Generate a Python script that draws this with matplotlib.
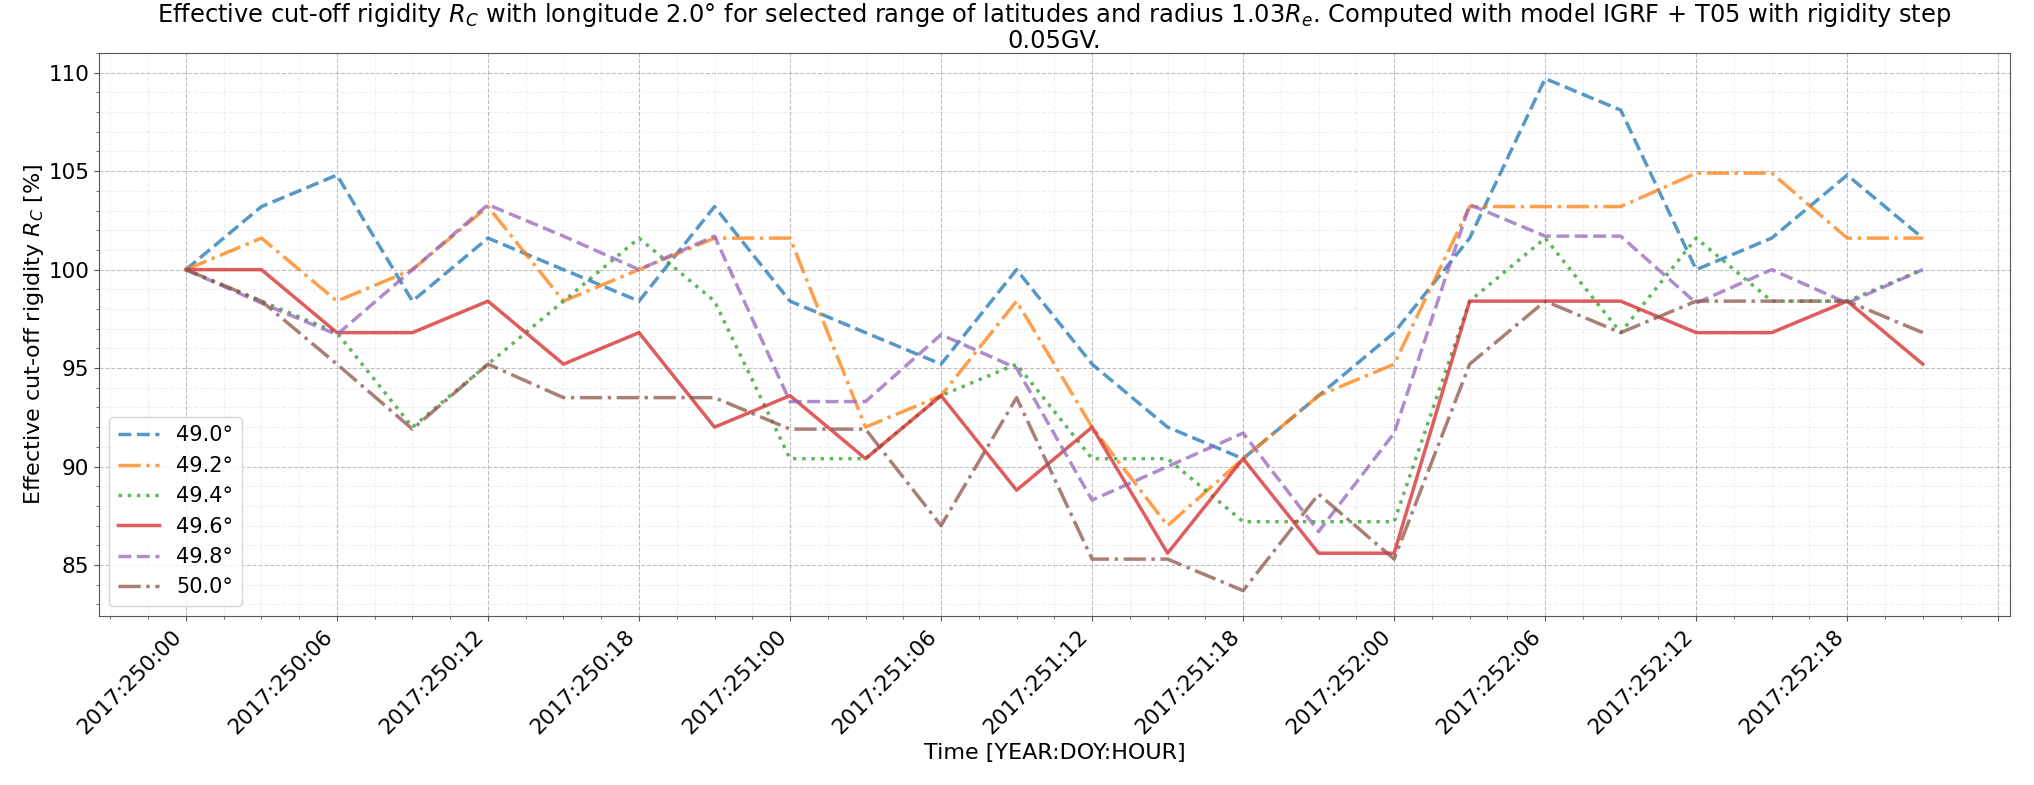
import numpy as np
import matplotlib
matplotlib.use('Agg')
import matplotlib.pyplot as plt
from matplotlib.ticker import MultipleLocator, FuncFormatter

# hours since 2017:250:00, 3 hour step
hours = np.arange(0, 70, 3)

lat_labels = ['49.0°', '49.2°', '49.4°', '49.6°', '49.8°', '50.0°']

rc_490 = [100, 103.2, 104.8, 98.4, 101.6, 100, 98.4, 103.2, 98.4, 96.8, 95.2, 100,
          95.2, 92.0, 90.4, 93.6, 96.8, 101.6, 109.7, 108.1, 100, 101.6, 104.8, 101.6]
rc_492 = [100, 101.6, 98.4, 100, 103.2, 98.4, 100, 101.6, 101.6, 92.0, 93.6, 98.4,
          92.0, 87.0, 90.4, 93.6, 95.2, 103.2, 103.2, 103.2, 104.9, 104.9, 101.6, 101.6]
rc_494 = [100, 98.4, 96.8, 92.0, 95.2, 98.4, 101.6, 98.4, 90.4, 90.4, 93.6, 95.2,
          90.4, 90.4, 87.2, 87.2, 87.2, 98.4, 101.6, 96.8, 101.6, 98.4, 98.4, 100]
rc_496 = [100, 100, 96.8, 96.8, 98.4, 95.2, 96.8, 92.0, 93.6, 90.4, 93.6, 88.8,
          92.0, 85.6, 90.4, 85.6, 85.6, 98.4, 98.4, 98.4, 96.8, 96.8, 98.4, 95.2]
rc_498 = [100, 98.3, 96.7, 100, 103.3, 101.7, 100, 101.7, 93.3, 93.3, 96.7, 95.0,
          88.3, 90.0, 91.7, 86.7, 91.7, 103.3, 101.7, 101.7, 98.3, 100, 98.3, 100]
rc_500 = [100, 98.4, 95.2, 91.9, 95.2, 93.5, 93.5, 93.5, 91.9, 91.9, 87.0, 93.5,
          85.3, 85.3, 83.7, 88.6, 85.3, 95.2, 98.4, 96.8, 98.4, 98.4, 98.4, 96.8]

tick_labels = ['2017:250:00', '2017:250:06', '2017:250:12', '2017:250:18',
               '2017:251:00', '2017:251:06', '2017:251:12', '2017:251:18',
               '2017:252:00', '2017:252:06', '2017:252:12', '2017:252:18']

series = [rc_490, rc_492, rc_494, rc_496, rc_498, rc_500]
styles = ['--', '-.', ':', '-', '--', '-.']

fig, ax = plt.subplots(figsize=(20.34, 7.85), dpi=100)
fig.subplots_adjust(left=0.0487, right=0.988, top=0.9325, bottom=0.215)

for i in range(len(series)):
    ax.plot(hours, series[i], styles[i], color='C%d' % i, lw=2.5, alpha=0.75,
            label=lat_labels[i])


def fmt_time(x, pos):
    k = int(round(x / 6))
    if abs(x - 6 * k) < 1e-6 and 0 <= k < len(tick_labels):
        return tick_labels[k]
    return ''


ax.xaxis.set_major_locator(MultipleLocator(6))
ax.xaxis.set_minor_locator(MultipleLocator(1.5))
ax.xaxis.set_major_formatter(FuncFormatter(fmt_time))
ax.yaxis.set_major_locator(MultipleLocator(5))
ax.yaxis.set_minor_locator(MultipleLocator(1))

plt.setp(ax.get_xticklabels(), rotation=45, ha='right')
ax.tick_params(labelsize=15.5)
ax.tick_params(which='both', color='#555555')
for sp in ax.spines.values():
    sp.set_color('#555555')

ax.grid(which='major', linestyle='--', color='#b0b0b0', alpha=0.8)
ax.grid(which='minor', linestyle='--', color='#b0b0b0', alpha=0.2)

ax.set_xlabel('Time [YEAR:DOY:HOUR]', fontsize=16)
ax.set_ylabel('Effective cut-off rigidity $R_C$ [%]', fontsize=16, labelpad=2)
ax.set_title('Effective cut-off rigidity $R_C$ with longitude 2.0° for selected range of latitudes '
             'and radius 1.03$R_e$. Computed with model IGRF + T05 with rigidity step\n0.05GV.',
             fontsize=17.4, linespacing=1.0, pad=3)
ax.legend(loc='lower left', fontsize=15)

plt.savefig('out.png')
